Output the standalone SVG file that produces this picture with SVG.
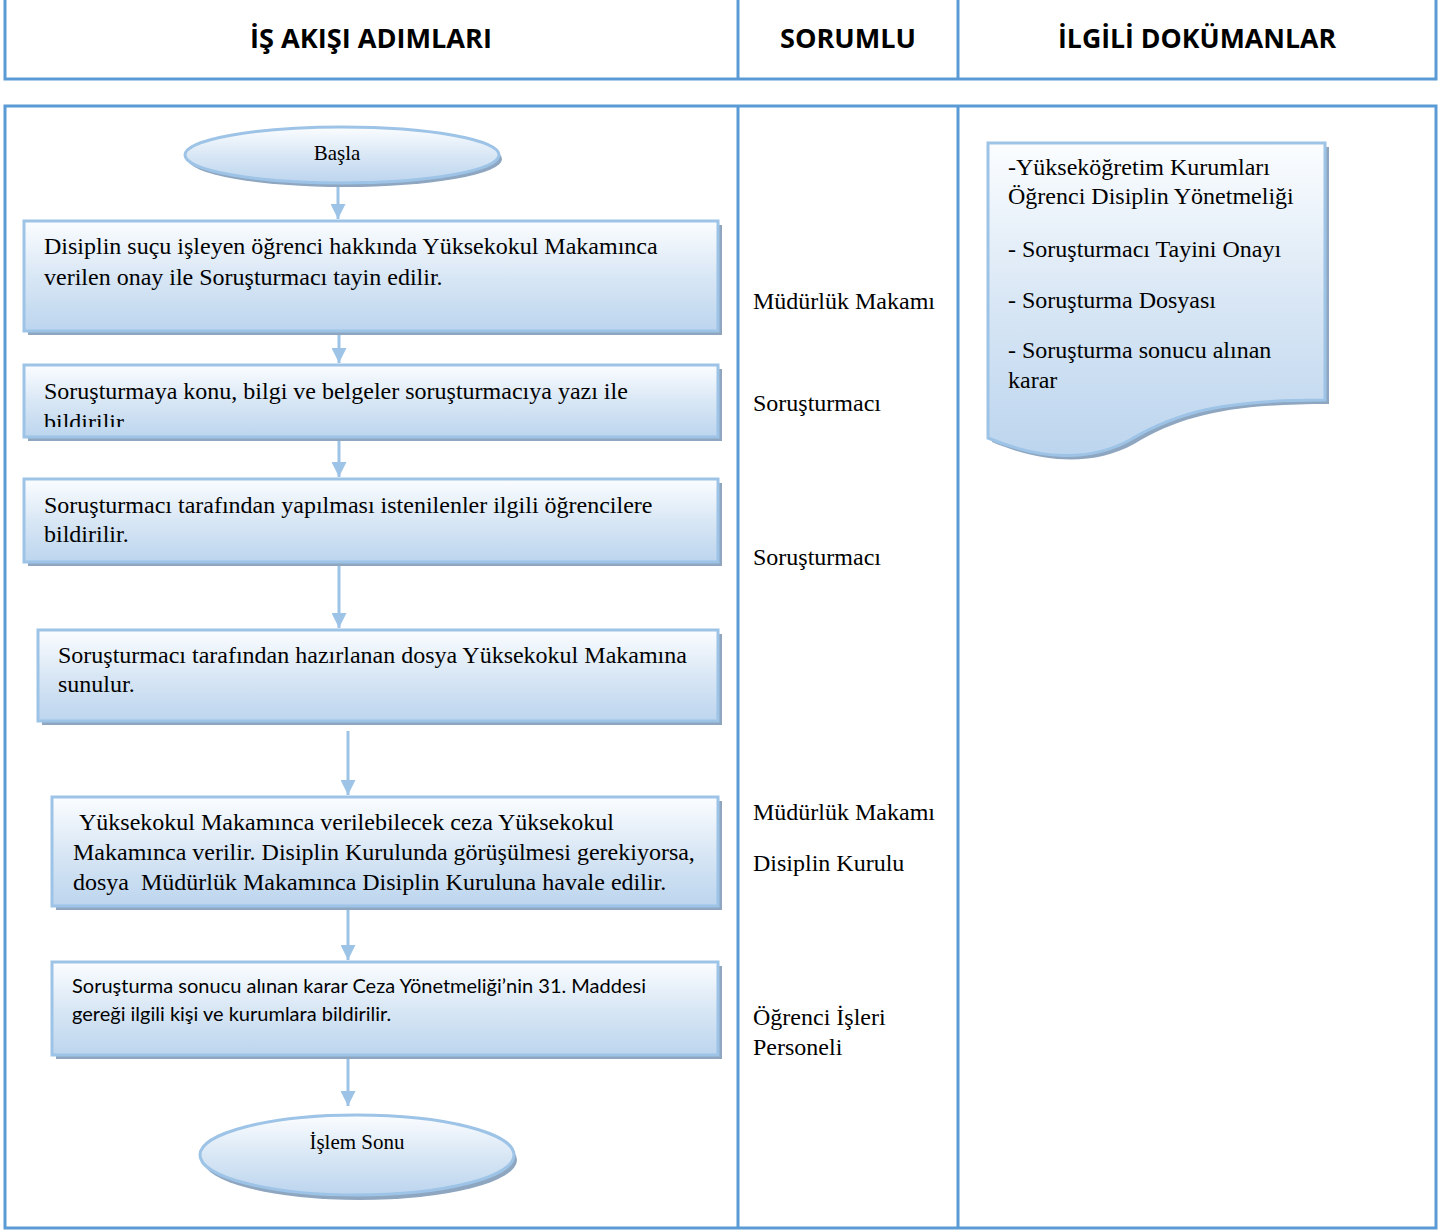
<svg xmlns="http://www.w3.org/2000/svg" width="1451" height="1231" viewBox="0 0 1451 1231">
<defs>
<linearGradient id="g" x1="0" y1="0" x2="0" y2="1">
<stop offset="0" stop-color="#fbfdff"/>
<stop offset="0.5" stop-color="#d9e7f5"/>
<stop offset="1" stop-color="#bcd5ee"/>
</linearGradient>
<marker id="ah" viewBox="0 0 10 10" refX="10" refY="5" markerWidth="5" markerHeight="5" orient="auto" markerUnits="strokeWidth">
<path d="M0,0 L10,5 L0,10 Z" fill="#9dc3e6"/>
</marker>
<clipPath id="c2"><rect x="24" y="365" width="694" height="62"/></clipPath>
</defs>
<style>
.tbl{fill:none;stroke:#5b9bd5;stroke-width:3}
.hd{font-family:"Open Sans","Liberation Sans",sans-serif;font-weight:bold;font-size:26px;fill:#000}
.box{fill:url(#g);stroke:#9dc3e6;stroke-width:3}
.sh{fill:#8ea6c0}
.t{font-family:"Liberation Serif","Times New Roman",serif;font-size:24px;fill:#000}
.ts{font-family:"Liberation Serif","Times New Roman",serif;font-size:21px;fill:#000}
.tr{font-family:"Liberation Serif","Times New Roman",serif;font-size:24px;fill:#000}
.tc{font-family:"Lato","Open Sans",sans-serif;font-size:20px;fill:#000}
.con{stroke:#9dc3e6;stroke-width:3;fill:none}
</style>
<rect width="1451" height="1231" fill="#fff"/>
<g id="header">
<rect class="tbl" x="5" y="-3" width="1431" height="82"/>
<line class="tbl" x1="738" y1="-3" x2="738" y2="79"/>
<line class="tbl" x1="958" y1="-3" x2="958" y2="79"/>
<text class="hd" x="371" y="48" text-anchor="middle" textLength="242" lengthAdjust="spacingAndGlyphs">İŞ AKIŞI ADIMLARI</text>
<text class="hd" x="848" y="48" text-anchor="middle" textLength="136" lengthAdjust="spacingAndGlyphs">SORUMLU</text>
<text class="hd" x="1197" y="48" text-anchor="middle" textLength="278" lengthAdjust="spacingAndGlyphs">İLGİLİ DOKÜMANLAR</text>
</g>
<g id="body-table">
<rect class="tbl" x="5" y="106" width="1431" height="1122"/>
<line class="tbl" x1="738" y1="106" x2="738" y2="1228"/>
<line class="tbl" x1="958" y1="106" x2="958" y2="1228"/>
</g>
<g id="connectors">
<line class="con" x1="338" y1="186" x2="338" y2="219" marker-end="url(#ah)"/>
<line class="con" x1="339" y1="334" x2="339" y2="363" marker-end="url(#ah)"/>
<line class="con" x1="339" y1="441" x2="339" y2="477" marker-end="url(#ah)"/>
<line class="con" x1="339" y1="566" x2="339" y2="628" marker-end="url(#ah)"/>
<line class="con" x1="348" y1="731" x2="348" y2="795" marker-end="url(#ah)"/>
<line class="con" x1="348" y1="910" x2="348" y2="960" marker-end="url(#ah)"/>
<line class="con" x1="348" y1="1058" x2="348" y2="1106" marker-end="url(#ah)"/>
</g>
<g id="start">
<ellipse class="sh" cx="345" cy="159" rx="157" ry="28"/>
<ellipse class="box" cx="342" cy="155" rx="157" ry="28"/>
<text class="ts" x="337" y="160" text-anchor="middle">Başla</text>
</g>
<g id="step1">
<rect class="sh" x="28" y="225" width="694" height="110"/>
<rect class="box" x="24" y="221" width="694" height="110"/>
<text class="t" x="44" y="254">Disiplin suçu işleyen öğrenci hakkında Yüksekokul Makamınca</text>
<text class="t" x="44" y="285">verilen onay ile Soruşturmacı tayin edilir.</text>
</g>
<g id="step2">
<rect class="sh" x="28" y="369" width="694" height="72"/>
<rect class="box" x="24" y="365" width="694" height="72"/>
<text class="t" x="44" y="399">Soruşturmaya konu, bilgi ve belgeler soruşturmacıya yazı ile</text>
<text class="t" x="44" y="430" clip-path="url(#c2)">bildirilir.</text>
</g>
<g id="step3">
<rect class="sh" x="28" y="483" width="694" height="83"/>
<rect class="box" x="24" y="479" width="694" height="83"/>
<text class="t" x="44" y="513">Soruşturmacı tarafından yapılması istenilenler ilgili öğrencilere</text>
<text class="t" x="44" y="542">bildirilir.</text>
</g>
<g id="step4">
<rect class="sh" x="42" y="634" width="680" height="91"/>
<rect class="box" x="38" y="630" width="680" height="91"/>
<text class="t" x="58" y="663">Soruşturmacı tarafından hazırlanan dosya Yüksekokul Makamına</text>
<text class="t" x="58" y="692">sunulur.</text>
</g>
<g id="step5">
<rect class="sh" x="56" y="801" width="666" height="109"/>
<rect class="box" x="52" y="797" width="666" height="109"/>
<text class="t" x="79" y="830">Yüksekokul Makamınca verilebilecek ceza Yüksekokul</text>
<text class="t" x="73" y="860">Makamınca verilir. Disiplin Kurulunda görüşülmesi gerekiyorsa,</text>
<text class="t" x="73" y="890" xml:space="preserve">dosya  Müdürlük Makamınca Disiplin Kuruluna havale edilir.</text>
</g>
<g id="step6">
<rect class="sh" x="56" y="966" width="666" height="93"/>
<rect class="box" x="52" y="962" width="666" height="93"/>
<text class="tc" x="72" y="993">Soruşturma sonucu alınan karar Ceza Yönetmeliği’nin 31. Maddesi</text>
<text class="tc" x="72" y="1021">gereği ilgili kişi ve kurumlara bildirilir.</text>
</g>
<g id="end">
<ellipse class="sh" cx="360" cy="1160" rx="157" ry="40"/>
<ellipse class="box" cx="357" cy="1155" rx="157" ry="40"/>
<text class="ts" x="357" y="1149" text-anchor="middle">İşlem Sonu</text>
</g>
<g id="responsible">
<text class="tr" x="753" y="309">Müdürlük Makamı</text>
<text class="tr" x="753" y="411">Soruşturmacı</text>
<text class="tr" x="753" y="565">Soruşturmacı</text>
<text class="tr" x="753" y="820">Müdürlük Makamı</text>
<text class="tr" x="753" y="871">Disiplin Kurulu</text>
<text class="tr" x="753" y="1025">Öğrenci İşleri</text>
<text class="tr" x="753" y="1055">Personeli</text>
</g>
<g id="documents">
<path class="sh" d="M992,147 H1329 V404 C1234,404 1184,414 1134,444 C1094,466 1044,464 992,442 Z"/>
<path class="box" d="M988,143 H1325 V400 C1230,400 1180,410 1130,440 C1090,462 1040,460 988,438 Z"/>
<text class="tr" x="1008" y="175">-Yükseköğretim Kurumları</text>
<text class="tr" x="1008" y="204">Öğrenci Disiplin Yönetmeliği</text>
<text class="tr" x="1008" y="257">- Soruşturmacı Tayini Onayı</text>
<text class="tr" x="1008" y="308">- Soruşturma Dosyası</text>
<text class="tr" x="1008" y="358">- Soruşturma sonucu alınan</text>
<text class="tr" x="1008" y="388">karar</text>
</g>
</svg>
